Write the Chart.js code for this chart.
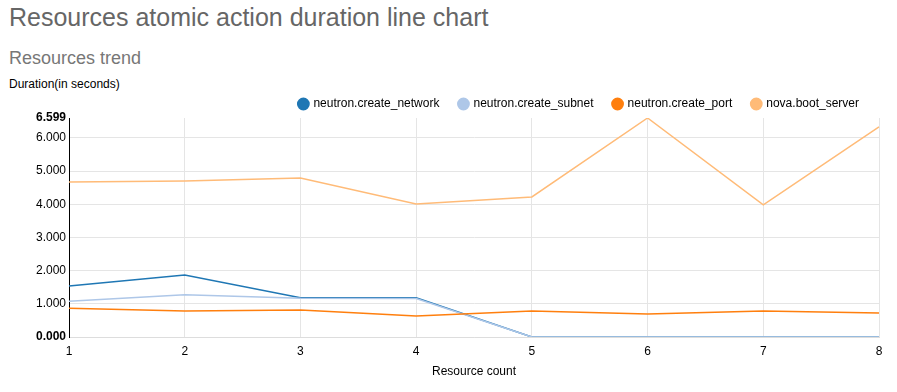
<!DOCTYPE html>
<html>
<head>
<meta charset="utf-8">
<script src="https://cdn.jsdelivr.net/npm/chart.js@4"></script>
<style>
  body { margin: 0; width: 897px; height: 392px; overflow: hidden; background: #fff; font-family: "Liberation Sans", Arial, sans-serif; position: relative; }
  h1 { position: absolute; left: 9px; top: 3px; margin: 0; font-size: 25px; font-weight: normal; color: #666; }
  h2 { position: absolute; left: 9px; top: 48px; margin: 0; font-size: 18px; font-weight: normal; color: #777; }
  .ylabel { position: absolute; left: 9px; top: 77px; font-size: 12px; color: #000; }
  #wrap { position: absolute; left: 0; top: 0; width: 897px; height: 392px; }
</style>
</head>
<body>
<h1>Resources atomic action duration line chart</h1>
<h2>Resources trend</h2>
<div class="ylabel">Duration(in seconds)</div>
<div id="wrap"><canvas id="chart"></canvas></div>
<script>
// Resource count on x, seconds on y
const counts = ["1", "2", "3", "4", "5", "6", "7", "8"];
const createNetwork = [1.54, 1.87, 1.18, 1.18, 0, 0, 0, 0];
const createSubnet = [1.08, 1.27, 1.17, 1.16, 0, 0, 0, 0];
const createPort = [0.87, 0.78, 0.81, 0.63, 0.78, 0.69, 0.78, 0.72];
const bootServer = [4.67, 4.70, 4.79, 4.01, 4.22, 6.599, 3.98, 6.33];
const yTicks = [0, 1, 2, 3, 4, 5, 6, 6.599];
const yMax = 6.599;

function line(label, data, color, order) {
  return {
    label: label,
    data: data,
    borderColor: color,
    backgroundColor: color,
    borderWidth: 1.5,
    pointRadius: 0,
    tension: 0,
    fill: false,
    order: order
  };
}

const font = "'Liberation Sans', Arial, sans-serif";

// keep the legend close to the plot
const legendHeight = {
  id: "legendHeight",
  beforeInit(chart) {
    const fit = chart.legend.fit;
    chart.legend.fit = function () {
      fit.bind(chart.legend)();
      this.height = 40;
    };
  }
};

new Chart(document.getElementById("chart"), {
  type: "line",
  data: {
    labels: counts,
    datasets: [
      line("neutron.create_network", createNetwork, "#1f77b4", 2),
      line("neutron.create_subnet", createSubnet, "#aec7e8", 1),
      line("neutron.create_port", createPort, "#ff7f0e", 0),
      line("nova.boot_server", bootServer, "#ffbb78", 3)
    ]
  },
  plugins: [legendHeight],
  options: {
    responsive: true,
    maintainAspectRatio: false,
    animation: false,
    layout: { padding: { top: 78, right: 18, left: 0, bottom: 9 } },
    plugins: {
      tooltip: { enabled: false },
      legend: {
        align: "end",
        labels: {
          usePointStyle: true,
          pointStyle: "circle",
          boxWidth: 8,
          boxHeight: 8,
          padding: 20,
          color: "#000",
          font: { family: font, size: 12 },
          sort: (a, b) => a.datasetIndex - b.datasetIndex
        }
      }
    },
    scales: {
      x: {
        offset: false,
        grid: { color: "#e5e5e5", drawTicks: false },
        border: { color: "#ddd" },
        ticks: { color: "#000", padding: 7, font: { family: font, size: 12 }, maxRotation: 0 },
        title: { display: true, text: "Resource count", color: "#000", font: { family: font, size: 12 }, padding: { top: 4 } },
        afterFit: s => { s.height = 46; }
      },
      y: {
        min: 0,
        max: yMax,
        afterBuildTicks: s => { s.ticks = yTicks.map(v => ({ value: v })); },
        grid: {
          color: c => (c.tick && c.tick.value === yMax) ? "rgba(0,0,0,0)" : "#e5e5e5",
          drawTicks: false
        },
        border: { color: "#000" },
        ticks: {
          color: "#000",
          padding: 3,
          callback: v => Number(v).toFixed(3),
          font: c => ({ family: font, size: 12, weight: (c.tick && (c.tick.value === 0 || c.tick.value === yMax)) ? "bold" : "normal" })
        },
        afterFit: s => { s.width = 69; }
      }
    }
  }
});
</script>
</body>
</html>
